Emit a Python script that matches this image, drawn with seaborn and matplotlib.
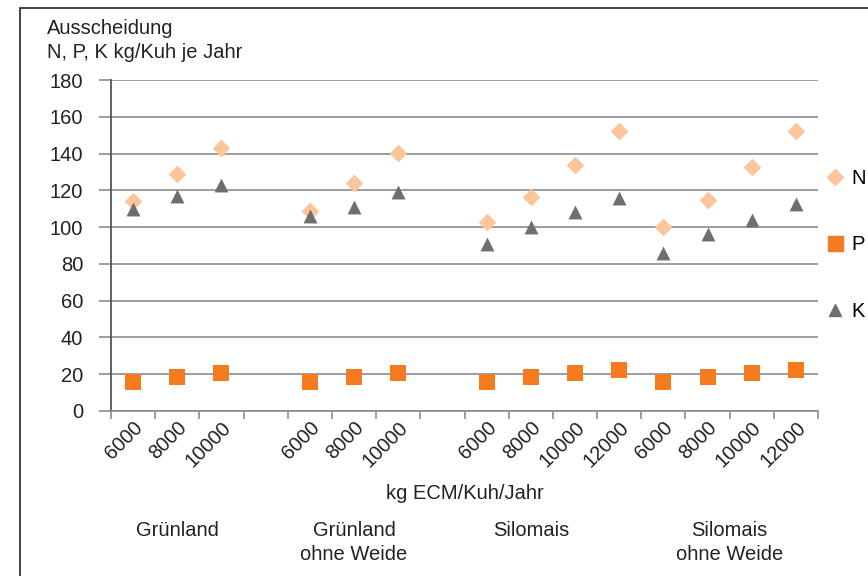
import pandas as pd
import matplotlib
matplotlib.use("Agg")
import matplotlib.pyplot as plt
import seaborn as sns
from matplotlib.lines import Line2D
from matplotlib.patches import Rectangle

# Daten
gruppen = ["Grünland", "Grünland\nohne Weide", "Silomais", "Silomais\nohne Weide"]
leistung = {
    "Grünland": [6000, 8000, 10000],
    "Grünland\nohne Weide": [6000, 8000, 10000],
    "Silomais": [6000, 8000, 10000, 12000],
    "Silomais\nohne Weide": [6000, 8000, 10000, 12000],
}
n_werte = [114, 129, 143, 109, 124, 140.5, 103, 116.5, 134, 152.5, 100, 115, 132.5, 152]
p_werte = [16, 18.5, 20.5, 16, 18.5, 20.5, 15.5, 18.5, 20.5, 22.5, 15.5, 18.5, 20.5, 22.5]
k_werte = [110, 117, 123, 106, 111, 119, 91, 100, 108, 116, 86, 96, 104, 112.5]

# Kategorien mit Lücken zwischen den Gruppen
reihenfolge = []
schluessel = []
for i, g in enumerate(gruppen):
    for l in leistung[g]:
        reihenfolge.append(f"{g}|{l}")
        schluessel.append(f"{g}|{l}")
    if i < 2:
        reihenfolge.append(f"luecke{i}")

df = pd.DataFrame({"key": schluessel * 3,
                   "wert": n_werte + p_werte + k_werte,
                   "naehrstoff": ["N"] * 14 + ["P"] * 14 + ["K"] * 14})

stil = {
    "N": dict(marker="D", color="#FCC59A", size=9),
    "P": dict(marker="s", color="#F47B20", size=12),
    "K": dict(marker="^", color="#6D6E71", size=10),
}

fs = 14.5
txt = "#222222"
plt.rcParams["font.family"] = ["Liberation Sans", "DejaVu Sans"]
fig = plt.figure(figsize=(8.68, 5.76), dpi=100)
ax = fig.add_axes([111 / 868, 1 - 411 / 576, 707 / 868, 331 / 576])

for nst in ["N", "P", "K"]:
    sub = df[df["naehrstoff"] == nst]
    sns.stripplot(data=sub, x="key", y="wert", order=reihenfolge, jitter=False,
                  marker=stil[nst]["marker"], color=stil[nst]["color"],
                  size=stil[nst]["size"], linewidth=0, ax=ax, zorder=3)

ax.set_ylim(0, 180)
ax.set_xlim(-0.5, len(reihenfolge) - 0.5)
ax.set_yticks(range(0, 181, 20))
ax.yaxis.grid(True, color="#8C8C8C", lw=1.2)
ax.set_axisbelow(True)
for s in ["top", "right"]:
    ax.spines[s].set_visible(False)
ax.spines["left"].set_color("#555555")
ax.spines["left"].set_linewidth(1.3)
ax.spines["bottom"].set_color("#8C8C8C")
ax.spines["bottom"].set_linewidth(1.2)
ax.tick_params(axis="y", length=9, width=1.2, color="#8C8C8C", pad=11,
               labelsize=fs, labelcolor=txt)

# Major ticks an den Grenzen, Beschriftung an den Mitten
grenzen = [i - 0.5 for i in range(len(reihenfolge) + 1)]
ax.set_xticks(grenzen)
ax.set_xticklabels([""] * len(grenzen))
ax.tick_params(axis="x", which="major", length=6, width=1.2, color="#8C8C8C")
mitten = [reihenfolge.index(k) for k in schluessel]
ax.set_xticks(mitten, minor=True)
ax.set_xticklabels([k.split("|")[1] for k in schluessel], minor=True,
                   rotation=45, ha="right", rotation_mode="anchor",
                   fontsize=fs, color=txt)
ax.tick_params(axis="x", which="minor", length=0, pad=5)
ax.set_xlabel("kg ECM/Kuh/Jahr", fontsize=fs, color=txt)
ax.xaxis.set_label_coords(0.5, -(484 - 411) / 331)
ax.set_ylabel("")

# Gruppenbeschriftungen
gruppen_x = {"Grünland": 1, "Grünland\nohne Weide": 5, "Silomais": 9, "Silomais\nohne Weide": 13.5}
for g in gruppen:
    ax.text(gruppen_x[g], -(521 - 411) / 331, g, transform=ax.get_xaxis_transform(),
            ha="center", va="top", fontsize=fs, color=txt, linespacing=1.3)

fig.text(47 / 868, 1 - 19 / 576, "Ausscheidung\nN, P, K kg/Kuh je Jahr", ha="left", va="top",
         fontsize=fs, color=txt, linespacing=1.35)

handles = [Line2D([], [], ls="", marker=stil[n]["marker"], color=stil[n]["color"],
                  markersize=stil[n]["size"] * 0.9) for n in ["N", "P", "K"]]
ax.legend(handles, ["N", "P", "K"], loc="upper left", bbox_to_anchor=(0.996, 0.755),
          frameon=False, labelspacing=2.35, handletextpad=0.2, handlelength=1.2,
          fontsize=fs, borderaxespad=0)

fig.patches.append(Rectangle((20 / 868, -0.2), 1.2, 1.2 - 8 / 576, transform=fig.transFigure,
                             fill=False, ec="#333333", lw=1.3))

fig.savefig("out.png", dpi=100)
